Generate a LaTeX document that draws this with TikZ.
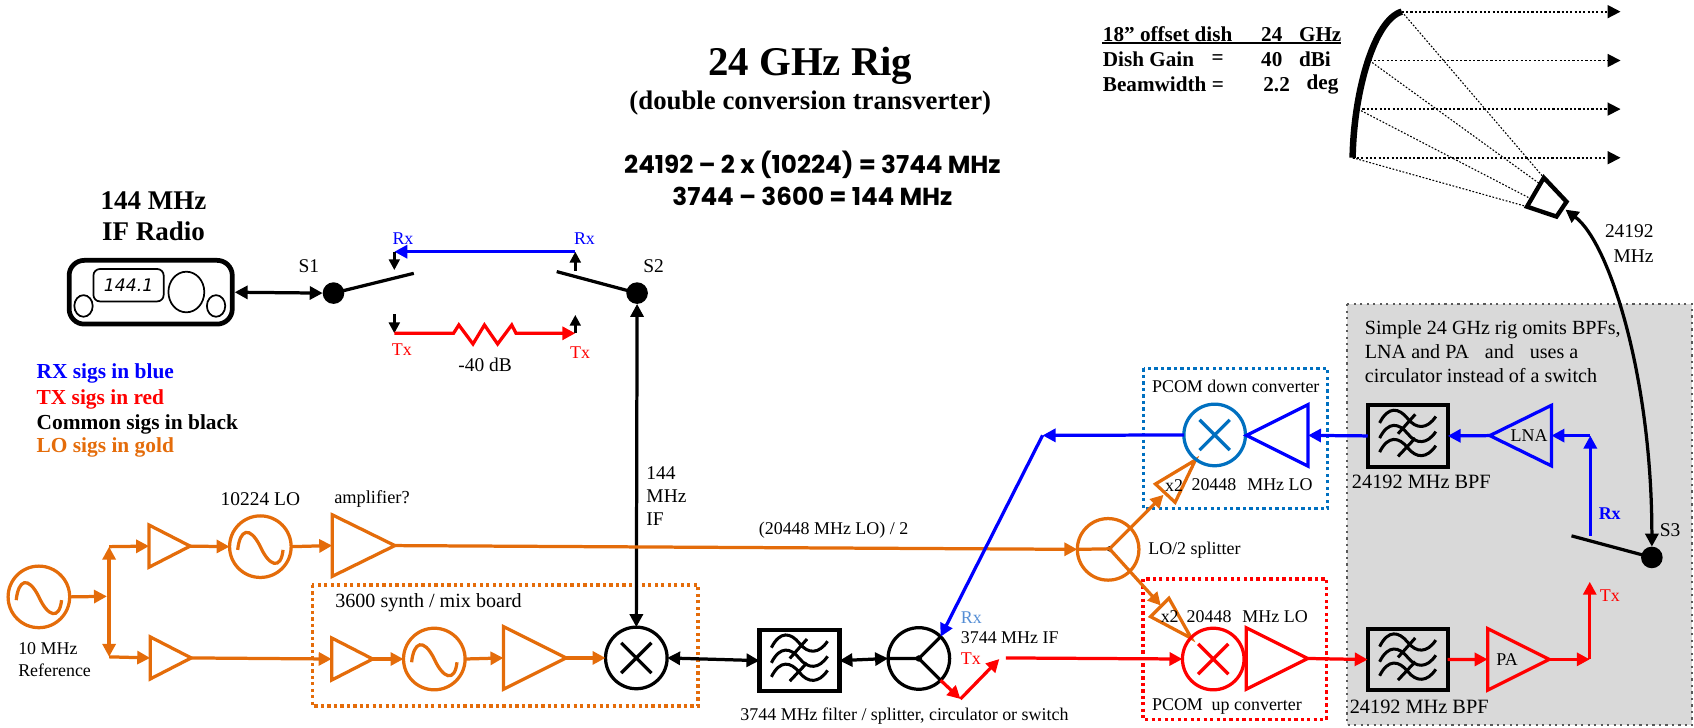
\documentclass[tikz,border=0pt]{standalone}
\usepackage{fontspec}
\usepackage{tikz}
\usetikzlibrary{arrows.meta}
\usetikzlibrary{shapes.geometric}
\setmainfont{Liberation Serif}
\newfontfamily\formulafont{Poppins}
\newfontfamily\dialfont{DejaVu Sans}
\definecolor{logold}{HTML}{E46C0A}
\definecolor{rxblue}{HTML}{0000FF}
\definecolor{txred}{HTML}{FF0000}
\definecolor{pcomblue}{HTML}{0070C0}
\definecolor{rxlight}{HTML}{558ED5}
\definecolor{greypanel}{HTML}{D9D9D9}
\definecolor{greydots}{HTML}{595959}
\tikzset{
  >={Triangle[length=6pt,width=6pt]},
  wire/.style={line width=1.5pt},
  losig/.style={wire,draw=logold,->},
  rxsig/.style={wire,draw=rxblue,->},
  txsig/.style={wire,draw=txred,->},
  comsig/.style={wire,draw=black,<->},
  stub/.style={line width=1.2pt,->,>={Triangle[length=5pt,width=5pt]}},
  label8/.style={inner sep=0pt,anchor=west,font=\fontsize{8.3pt}{10pt}\selectfont},
  label9/.style={inner sep=0pt,anchor=west,font=\fontsize{9pt}{11pt}\selectfont},
  legendtext/.style={inner sep=0pt,anchor=west,font=\bfseries\fontsize{9.9pt}{12pt}\selectfont},
  ringbox/.style={circle,draw=#1,wire,inner sep=0pt,outer sep=0pt,minimum size=28.5pt},
  oscbox/.style={ringbox=logold,path picture={
      \draw[logold,wire,shift={(path picture bounding box.center)}]
        (-21,3) .. controls (-19,-16) and (-10,-20) .. (0,0) .. controls (8,18) and (19,22) .. (21,3);}},
  mixbox/.style={ringbox=#1,path picture={
      \draw[#1,wire,shift={(path picture bounding box.center)}]
        (-14,-14) -- (14,14) (-14,14) -- (14,-14);}},
  ampbox/.style={shape=isosceles triangle,isosceles triangle stretches,draw=#1,wire,
      inner sep=0pt,outer sep=0pt,anchor=apex},
  bpfbox/.style={rectangle,draw=black,line width=1.9pt,inner sep=0pt,outer sep=0pt,
      minimum width=37pt,minimum height=28.5pt,path picture={
      \draw[black,line width=1.4pt,shift={(path picture bounding box.center)}]
        (-26,-12) .. controls (-18,-28) and (-8,-26) .. (0,-16) .. controls (8,-6) and (18,-6) .. (26,-18)
        (-26,2) .. controls (-18,-14) and (-8,-12) .. (0,-2) .. controls (8,8) and (18,8) .. (26,-4)
        (-26,15) .. controls (-18,-1) and (-8,1) .. (0,11) .. controls (8,21) and (18,21) .. (26,9)
        (7,-20) -- (-9,-2) (7,2) -- (-9,19);}},
  dotbox/.style={circle,fill=black,inner sep=0pt,outer sep=0pt,minimum size=10pt},
  groupbox/.style={draw=#1,line width=1.5pt,dash pattern=on 1.5pt off 1.5pt},
  tablerow/.style={legendtext,font=\bfseries\fontsize{9.8pt}{12pt}\selectfont},
  beamray/.style={line width=0.8pt,dash pattern=on 1pt off 1pt,->},
  feedray/.style={line width=0.5pt,dash pattern=on 0.8pt off 0.8pt}
}
\begin{document}
\begin{tikzpicture}[x=0.5pt,y=-0.5pt,node distance=22pt]
\useasboundingbox (0,0) rectangle (1568,673);

\coordinate (panelA) at (1247,281.5);
\coordinate (panelB) at (1566.5,671);
\fill[greypanel] (panelA) rectangle (panelB);
\draw[greydots,line width=1pt,dash pattern=on 1pt off 2pt] (panelA) rectangle (panelB);
\draw[groupbox=logold] (289,541.5) rectangle (646,653.5);
\draw[groupbox=pcomblue] (1058.5,341) rectangle (1229,471);
\draw[groupbox=txred] (1058,536) rectangle (1228,666);

\node[inner sep=0pt,font=\bfseries\fontsize{18.9pt}{22pt}\selectfont] (title) at (750,61) {24 GHz Rig};
\node[inner sep=0pt,font=\bfseries\fontsize{12.4pt}{15pt}\selectfont] (subtitle) at (750,95.5) {(double conversion transverter)};
\node[inner sep=0pt,font=\formulafont\bfseries\fontsize{11.4pt}{13pt}\selectfont] (formulaA) at (752,153) {24192 – 2 x (10224) = 3744 MHz};
\node[inner sep=0pt,font=\formulafont\bfseries\fontsize{11.4pt}{13pt}\selectfont] (formulaB) at (752,182) {3744 – 3600 = 144 MHz};
\node[inner sep=0pt,align=center,font=\bfseries\fontsize{12.5pt}{14.5pt}\selectfont] (radiotitle) at (142,200) {144 MHz\\IF Radio};

\node[legendtext,text=rxblue] (legrx) at (33.5,346) {RX sigs in blue};
\node[legendtext,text=txred] (legtx) at (33.5,370) {TX sigs in red};
\node[legendtext] (legcom) at (33.5,392.5) {Common sigs in black};
\node[legendtext,text=logold] (leglo) at (33.5,414.5) {LO sigs in gold};

\node[tablerow] (dishA) at (1020.5,32) {18” offset dish};
\node[tablerow] (dishB) at (1167,32) {24};
\node[tablerow] (dishC) at (1202,32) {GHz};
\node[tablerow] (gainA) at (1020.5,55) {Dish Gain};
\node[tablerow] (gainB) at (1121,55) {=};
\node[tablerow] (gainC) at (1167,55) {40};
\node[tablerow] (gainD) at (1202,55) {dBi};
\node[tablerow] (beamA) at (1020.5,78) {Beamwidth =};
\node[tablerow] (beamB) at (1169,78) {2.2};
\node[tablerow] (beamC) at (1209,78) {deg};
\coordinate (ruleA) at (1020,39.5);
\coordinate (ruleB) at (1241,39.5);
\draw[line width=0.8pt] (ruleA) -- (ruleB);

\coordinate (dishlow) at (1252,146);
\coordinate (dishtwo) at (1257,101);
\coordinate (dishthree) at (1267.5,56);
\coordinate (dishtop) at (1297.5,10.8);
\draw[line width=3pt] (dishlow) .. controls (1253,85) and (1272,18) .. (dishtop);
\coordinate (beamendA) at (1500,10.8);
\coordinate (beamendB) at (1500,56);
\coordinate (beamendC) at (1500,101);
\coordinate (beamendD) at (1500,146);
\draw[beamray] (dishtop) -- (beamendA);
\draw[beamray] (dishthree) -- (beamendB);
\draw[beamray] (dishtwo) -- (beamendC);
\draw[beamray] (dishlow) -- (beamendD);
\coordinate (hornA) at (1429,164.5);
\coordinate (hornB) at (1450,186.7);
\coordinate (hornC) at (1440.7,200.5);
\coordinate (hornD) at (1413.4,191.3);
\coordinate (hornfeedA) at (1425,170);
\coordinate (hornfeedB) at (1417,184);
\draw[feedray] (dishtop) -- (hornA);
\draw[feedray] (dishthree) -- (hornfeedA);
\draw[feedray] (dishtwo) -- (hornfeedB);
\draw[feedray] (dishlow) -- (hornD);
\draw[line width=2pt,line join=miter] (hornA) -- (hornB) -- (hornC) -- (hornD) -- cycle;
\node[label9,anchor=east] (feedA) at (1531,214) {24192};
\node[label9,anchor=east] (feedB) at (1531,237) {MHz};

\node[rectangle,rounded corners=7pt,draw,line width=2.2pt,inner sep=0pt,minimum width=75.5pt,minimum height=29.5pt] (radio) at (139.5,270.5) {};
\node[rectangle,rounded corners=3pt,draw,line width=0.8pt,inner sep=0pt,minimum width=32.5pt,minimum height=15pt,font=\dialfont\itshape\fontsize{8pt}{10pt}\selectfont] (dial) at (119,264) {144.1};
\node[ellipse,draw,line width=0.8pt,inner sep=0pt,minimum width=16.6pt,minimum height=18.8pt] (knob) at (172.5,270.3) {};
\node[ellipse,draw,line width=0.8pt,inner sep=0pt,minimum width=8.5pt,minimum height=10pt] (knobL) at (77.3,283.2) {};
\node[ellipse,draw,line width=0.8pt,inner sep=0pt,minimum width=8.5pt,minimum height=10pt] (knobR) at (200,283.2) {};

\node[dotbox] (s1) at (308.7,271.3) {};
\node[dotbox] (s2) at (589.7,271.3) {};
\node[dotbox] (s3) at (1529,516) {};
\node[label9] (s1text) at (276,246) {S1};
\node[label9] (s2text) at (595,246) {S2};
\node[label9] (s3text) at (1536,491) {S3};
\coordinate (leverA) at (383,253);
\coordinate (leverB) at (515.3,251.4);
\coordinate (leverC) at (1454.6,496);
\draw[line width=1.5pt] (s1.center) -- (leverA);
\draw[line width=1.5pt] (s2.center) -- (leverB);
\draw[line width=1.5pt] (s3.center) -- (leverC);
\draw[comsig] (radio.east) -- (s1.west);

\coordinate (rxtopL) at (365,233);
\coordinate (rxtopR) at (532.5,233);
\coordinate (rxstubL) at (365,250);
\coordinate (rxstubR) at (532.5,250.5);
\coordinate (txlowL) at (365,308.5);
\coordinate (txlowR) at (532.5,308.5);
\coordinate (txstubL) at (365,291);
\coordinate (txstubR) at (532.5,291.5);
\draw[rxsig] (rxtopR) -- (rxtopL);
\draw[stub] (rxtopL) -- (rxstubL);
\draw[stub] (rxstubR) -- (rxtopR);
\draw[stub] (txstubL) -- (txlowL);
\draw[stub] (txlowR) -- (txstubR);
\draw[txsig] (txlowL) -- (419.8,308.5) -- (424.7,300.8) -- (437.8,318.4) -- (448.4,300.8) -- (460.6,318.4) -- (473.7,300.8) -- (477.6,308.5) -- (txlowR);
\node[label8,anchor=center,text=rxblue] (rxA) at (373,220.5) {Rx};
\node[label8,anchor=center,text=rxblue] (rxB) at (541,220.5) {Rx};
\node[label8,anchor=center,text=txred] (txA) at (372,323.5) {Tx};
\node[label8,anchor=center,text=txred] (txB) at (537,326) {Tx};
\node[label9,anchor=center] (attn) at (449,338) {-40 dB};

\node[oscbox] (oscref) at (36,552.5) {};
\node[label8] (refA) at (16.5,600.5) {10 MHz};
\node[label8] (refB) at (16.5,620.5) {Reference};
\coordinate (forkmid) at (99,552);
\coordinate (forktop) at (101,506);
\coordinate (forklow) at (101,608);
\draw[losig] (oscref.east) -- (forkmid);
\draw[wire,draw=logold,<->] (forktop) -- (forklow);
\node[ampbox=logold,minimum width=19.5pt,minimum height=19pt] (ampA) at (176,505.5) {};
\node[ampbox=logold,minimum width=19.5pt,minimum height=19pt] (ampB) at (177,609) {};
\draw[losig] (forktop) -- (ampA.west);
\draw[losig] (forklow) -- (ampB.west);
\node[oscbox] (osclo) at (241,506) {};
\node[label9,anchor=center,above of=osclo] (osclotext) {10224 LO};
\draw[losig] (ampA.apex) -- (osclo.west);
\node[ampbox=logold,minimum width=28.5pt,minimum height=29pt] (ampbig) at (365.5,505) {};
\node[label8,font=\fontsize{8.5pt}{10pt}\selectfont] (amptext) at (309,462) {amplifier?};
\draw[losig] (osclo.east) -- (ampbig.west);
\node[ampbox=logold,minimum width=19.5pt,minimum height=19pt] (ampC) at (345,610) {};
\node[oscbox] (oscsynth) at (402,610) {};
\node[ampbox=logold,minimum width=29pt,minimum height=29pt] (ampD) at (524,609) {};
\node[ringbox=black,mixbox=black] (mixmain) at (589,609) {};
\node[label9,font=\fontsize{9.3pt}{11pt}\selectfont] (synthtext) at (310,558) {3600 synth / mix board};
\draw[losig] (ampB.apex) -- (ampC.west);
\draw[losig] (ampC.apex) -- (oscsynth.west);
\draw[losig] (oscsynth.east) -- (ampD.west);
\draw[losig] (ampD.apex) -- (mixmain.west);
\draw[comsig] (s2.south) -- (mixmain.north);
\node[label9,align=left,font=\fontsize{9pt}{10.7pt}\selectfont] (iftext) at (598,459) {144\\MHz\\IF};

\node[ringbox=logold] (splitter) at (1025.7,508.5) {};
\node[circle,fill=black,inner sep=0pt,minimum size=2.5pt] (splitdot) at (1027,508) {};
\coordinate (splitup) at (1077,458);
\coordinate (splitdown) at (1074.5,560.5);
\draw[losig] (ampbig.apex) -- (splitter.west);
\node[label8] (lodiv) at (702,491) {(20448 MHz LO) / 2};
\draw[wire,draw=logold] (splitter.west) -- (splitdot.center);
\draw[losig] (splitdot.center) -- (splitup);
\draw[losig] (splitdot.center) -- (splitdown);
\node[label8] (splittext) at (1062.5,509) {LO/2 splitter};
\coordinate (dblupA) at (1069.5,448);
\coordinate (dblupB) at (1106.5,425.8);
\coordinate (dblupC) at (1087.7,465);
\coordinate (dbldownA) at (1065,570.8);
\coordinate (dbldownB) at (1082,553.8);
\coordinate (dbldownC) at (1102.7,590.8);
\draw[wire,draw=logold] (dblupA) -- (dblupB) -- (dblupC) -- cycle;
\draw[wire,draw=logold] (dbldownA) -- (dbldownB) -- (dbldownC) -- cycle;
\node[label8] (twoA) at (1078,449) {x2};
\node[label8] (twoB) at (1074,571) {x2};
\node[label8] (pcomA) at (1066,358) {PCOM down converter};
\node[label8] (loA) at (1102.5,449) {20448\hspace{3pt} MHz LO};
\node[label8] (pcomB) at (1066,654) {PCOM\hspace{2pt} up converter};
\node[label8] (loB) at (1098,571) {20448\hspace{3pt} MHz LO};

\node[bpfbox] (bpfif) at (740,611.5) {};
\node[ringbox=black] (circ) at (850.5,609.5) {};
\draw[comsig] (mixmain.east) -- (bpfif.west);
\draw[comsig] (bpfif.east) -- (circ.west);
\draw[wire,draw=black] (circ.west) -- (circ.center) -- (circ.45);
\draw[wire,draw=black] (circ.center) -- (circ.-45);
\node[circle,fill=black,inner sep=0pt,minimum size=3pt] (circdot) at (circ.center) {};
\node[label8] (bpfiftext) at (685,663) {3744 MHz filter / splitter, circulator or switch};
\node[label8,text=rxlight] (circrx) at (889,571.5) {Rx};
\node[label8] (circif) at (889,590) {3744 MHz IF};
\node[label8,text=txred] (circtx) at (889,609.5) {Tx};

\node[mixbox=pcomblue] (mixdown) at (1124.3,402.6) {};
\node[mixbox=txred] (mixup) at (1123,610) {};
\node[ampbox=rxblue,shape border rotate=180,minimum width=28.5pt,minimum height=28.5pt] (ampdown) at (1153.7,403) {};
\node[ampbox=txred,minimum width=28.5pt,minimum height=28.5pt] (ampup) at (1210.5,609.5) {};
\coordinate (rxbend) at (965,403);
\coordinate (txbendA) at (889,647);
\coordinate (txbendB) at (925,610);
\coordinate (txbendC) at (931,609);
\draw[rxsig] (mixdown.west) -- (rxbend);
\draw[rxsig] (rxbend) -- (circ.45);
\draw[txsig] (circ.-45) -- (txbendA);
\draw[txsig] (txbendA) -- (txbendB);
\draw[txsig] (txbendC) -- (mixup.west);

\node[label8,align=left,font=\fontsize{9.3pt}{11.2pt}\selectfont] (panelnote) at (1263,325.5) {Simple 24 GHz rig omits BPFs,\\LNA and PA\hspace{5pt} and\hspace{5pt} uses a\\circulator instead of a switch};
\node[bpfbox] (bpfrx) at (1303,403.5) {};
\node[bpfbox] (bpftx) at (1303,610.5) {};
\node[label8,font=\fontsize{9.4pt}{11pt}\selectfont] (bpfrxtext) at (1251,446) {24192 MHz BPF};
\node[label8,font=\fontsize{9.4pt}{11pt}\selectfont] (bpftxtext) at (1249,654) {24192 MHz BPF};
\node[ampbox=rxblue,shape border rotate=180,minimum width=28pt,minimum height=28.5pt,font=\fontsize{8.3pt}{10pt}\selectfont] (lna) at (1379,403.2) {LNA};
\node[ampbox=txred,minimum width=28.5pt,minimum height=28.5pt,font=\fontsize{8.3pt}{10pt}\selectfont] (pa) at (1434,610.3) {PA};
\coordinate (rxriseA) at (1472,496);
\coordinate (rxriseB) at (1472,403.2);
\coordinate (txcorner) at (1471.5,610.3);
\coordinate (txrise) at (1471.5,538.5);
\draw[rxsig] (rxriseA) -- (rxriseB);
\draw[rxsig] (rxriseB) -- (lna.east);
\draw[rxsig] (lna.apex) -- (bpfrx.east);
\draw[rxsig] (bpfrx.west) -- (ampdown.east);
\draw[txsig] (ampup.apex) -- (bpftx.west);
\draw[txsig] (bpftx.east) -- (pa.west);
\draw[txsig] (pa.apex) -- (txcorner);
\draw[txsig] (txcorner) -- (txrise);
\node[label8,text=rxblue,font=\bfseries\fontsize{8.3pt}{10pt}\selectfont,anchor=center] (rxC) at (1490,475) {Rx};
\node[label8,text=txred,anchor=center] (txC) at (1490,551) {Tx};
\coordinate (hornin) at (1449,194);
\draw[line width=1.5pt,<->] (hornin) .. controls (1490,225) and (1529,350) .. (s3.north);
\end{tikzpicture}
\end{document}
